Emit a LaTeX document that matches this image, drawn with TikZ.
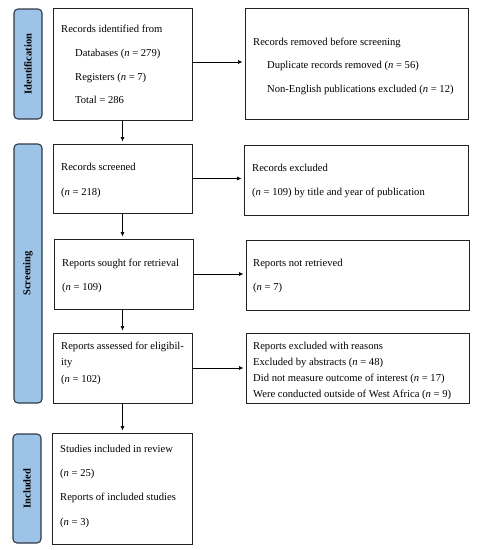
\documentclass[tikz,border=0pt]{standalone}
\usepackage{fontspec}
\setmainfont{Liberation Serif}
\usetikzlibrary{fit,arrows.meta}
\definecolor{sidefill}{HTML}{9DC3E6}
\definecolor{sideedge}{HTML}{2E3A48}
\definecolor{boxedge}{HTML}{222222}
\tikzset{
  box/.style={draw=boxedge, line width=1pt, rectangle, inner sep=0pt},
  side/.style={draw=sideedge, fill=sidefill, line width=1.1pt, rectangle, rounded corners=4pt, inner sep=0pt},
  sidelabel/.style={rotate=90, font=\fontsize{10.5}{11}\selectfont\bfseries, inner sep=0pt},
  txt/.style={anchor=base west, inner sep=0pt, font=\fontsize{10.6}{12}\selectfont},
  arr/.style={-{Latex[length=4.5pt,width=4pt]}, line width=0.7pt, shorten >=2pt}
}
\begin{document}
\begin{tikzpicture}[x=1pt,y=-1pt]
\useasboundingbox (0,0) rectangle (479,550);
% side bars
\node[side, fit={(14,9) (42,119)}] (s1) {};
\node[sidelabel] (s1l) at (s1.center) {Identification};
\node[side, fit={(14,144) (42,403)}] (s2) {};
\node[sidelabel] (s2l) at (s2.center) {Screening};
\node[side, fit={(13,434) (41,543)}] (s3) {};
\node[sidelabel] (s3l) at (s3.center) {Included};
% left boxes
\node[box, fit={(53,8) (192,120)}] (b1) {};
\node[box, fit={(53,144) (192,213)}] (b2) {};
\node[box, fit={(54,239) (193,309)}] (b3) {};
\node[box, fit={(53,333) (192,403)}] (b4) {};
\node[box, fit={(52,433) (192,544)}] (b5) {};
% right boxes
\node[box, fit={(245,8) (468,119)}] (r1) {};
\node[box, fit={(244,145) (468,215)}] (r2) {};
\node[box, fit={(246,240) (469,310)}] (r3) {};
\node[box, fit={(246,333) (469,403)}] (r4) {};
% texts left
\node[txt] (t11) at (61,32) {Records identified from};
\node[txt] (t12) at (75,56) {Databases (\textit{n} = 279)};
\node[txt] (t13) at (75,80) {Registers (\textit{n} = 7)};
\node[txt] (t14) at (75,103) {Total = 286};
\node[txt] (t21) at (61,170) {Records screened};
\node[txt] (t22) at (61,195) {(\textit{n} = 218)};
\node[txt] (t31) at (62,266) {Reports sought for retrieval};
\node[txt] (t32) at (62,290) {(\textit{n} = 109)};
\node[txt] (t41) at (61,349) {Reports assessed for eligibil-};
\node[txt] (t42) at (61,365) {ity};
\node[txt] (t43) at (61,382) {(\textit{n} = 102)};
\node[txt] (t51) at (60,452) {Studies included in review};
\node[txt] (t52) at (60,476) {(\textit{n} = 25)};
\node[txt] (t53) at (60,500) {Reports of included studies};
\node[txt] (t54) at (60,525) {(\textit{n} = 3)};
% texts right
\node[txt] (u11) at (253,45) {Records removed before screening};
\node[txt] (u12) at (267,68) {Duplicate records removed (\textit{n} = 56)};
\node[txt] (u13) at (267,92) {Non-English publications excluded (\textit{n} = 12)};
\node[txt] (u21) at (252,171) {Records excluded};
\node[txt] (u22) at (252,195) {(\textit{n} = 109) by title and year of publication};
\node[txt] (u31) at (253,266) {Reports not retrieved};
\node[txt] (u32) at (253,290) {(\textit{n} = 7)};
\node[txt] (u41) at (253,349) {Reports excluded with reasons};
\node[txt] (u42) at (253,365) {Excluded by abstracts (\textit{n} = 48)};
\node[txt] (u43) at (253,381) {Did not measure outcome of interest (\textit{n} = 17)};
\node[txt] (u44) at (253,397) {Were conducted outside of West Africa (\textit{n} = 9)};
% arrows
\draw[arr] (b1.south) -- (b1.south |- b2.north);
\draw[arr] (b2.south) -- (b2.south |- b3.north);
\draw[arr] (b3.south -| b2.south) -- (b2.south |- b4.north);
\draw[arr] (b4.south) -- (b4.south |- b5.north);
\draw[arr] (b1.east) ++(0,-2) coordinate (a1) -- (a1 -| r1.west);
\draw[arr] (b2.east) -- (b2.east -| r2.west);
\draw[arr] (b3.east) -- (b3.east -| r3.west);
\draw[arr] (b4.east) -- (b4.east -| r4.west);
\end{tikzpicture}
\end{document}
